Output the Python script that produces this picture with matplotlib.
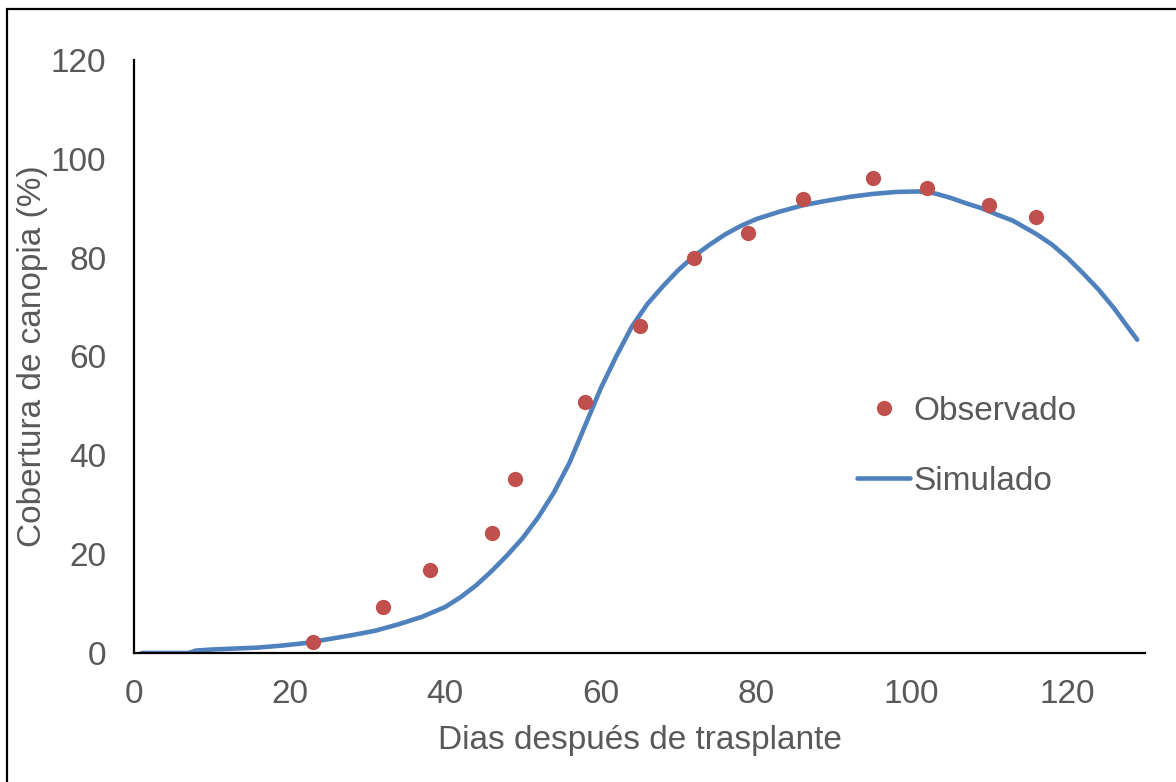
import matplotlib
matplotlib.use("Agg")
import matplotlib.pyplot as plt
from matplotlib.patches import Rectangle

plt.rcParams['font.family'] = ['Liberation Sans', 'DejaVu Sans']

obs_days = [23, 32, 38, 46, 49, 58, 65, 72, 79, 86, 95, 102, 110, 116]
obs_cover = [2.2, 9.3, 16.8, 24.3, 35.2, 50.7, 66.2, 79.9, 85.0, 91.8, 96.2, 94.1, 90.6, 88.3]

sim_days = [1, 7, 8, 10, 13, 16, 19, 22, 25, 28, 31, 34, 37, 40, 42, 44, 46, 48, 50, 52, 54, 56, 58,
            60, 62, 64, 66, 68, 70, 72, 74, 76, 78, 80, 83, 86, 89, 92, 95, 98, 101, 103, 105, 107,
            109, 111, 113, 116, 118, 120, 122, 124, 126, 128, 129]
sim_cover = [0, 0, 0.5, 0.7, 0.9, 1.1, 1.5, 2.0, 2.8, 3.6, 4.5, 5.8, 7.3, 9.3, 11.3, 13.7, 16.6, 19.8,
             23.3, 27.5, 32.5, 38.5, 46.0, 53.5, 60.0, 66.0, 70.6, 74.2, 77.5, 80.3, 82.6, 84.7, 86.4,
             87.8, 89.3, 90.6, 91.5, 92.3, 92.9, 93.3, 93.4, 93.0, 92.1, 91.0, 90.0, 88.7, 87.5, 84.8,
             82.7, 80.0, 76.9, 73.6, 69.8, 65.5, 63.4]

x_ticks = [0, 20, 40, 60, 80, 100, 120]
y_ticks = [0, 20, 40, 60, 80, 100, 120]

gray = '#595959'
fig = plt.figure(figsize=(11.76, 7.82), dpi=100)
ax = fig.add_axes([134/1176, 1-653/782, (1145-134)/1176, (653-60)/782])

ax.plot(sim_days, sim_cover, color='#4F81BD', lw=3.3, solid_capstyle='round',
        solid_joinstyle='round', label='Simulado', zorder=2)
ax.plot(obs_days, obs_cover, 'o', color='#C0504D', ms=11, mec='none', label='Observado', zorder=3)

ax.set_xlim(0, 130)
ax.set_ylim(0, 120)
ax.set_xticks(x_ticks)
ax.set_yticks(y_ticks)
for s in ['top', 'right']:
    ax.spines[s].set_visible(False)
for s in ['left', 'bottom']:
    ax.spines[s].set_linewidth(1.6)
    ax.spines[s].set_color('black')
ax.tick_params(length=0, labelsize=24, labelcolor=gray)
ax.tick_params(axis='x', pad=18.5)
ax.tick_params(axis='y', pad=20)
ax.set_xlabel('Dias después de trasplante', fontsize=24, color=gray, labelpad=11)
fig.text(33/1176, 1-356/782, 'Cobertura de canopia (%)', fontsize=24, color=gray,
         rotation=90, ha='center', va='center')

h, l = ax.get_legend_handles_labels()
leg = ax.legend([h[1], h[0]], [l[1], l[0]], loc='upper left', bbox_to_anchor=(857/1176, 1-396/782),
                bbox_transform=fig.transFigure, frameon=False, fontsize=24, handlelength=1.6,
                handletextpad=0.1, labelspacing=1.17, borderaxespad=0, borderpad=0)
for t in leg.get_texts():
    t.set_color(gray)

fig.patches.append(Rectangle((7/1176, -0.1), 1.2, 1.1 - 9/782, transform=fig.transFigure,
                             fill=False, edgecolor='black', lw=1.6))
fig.savefig('out.png', dpi=100)
